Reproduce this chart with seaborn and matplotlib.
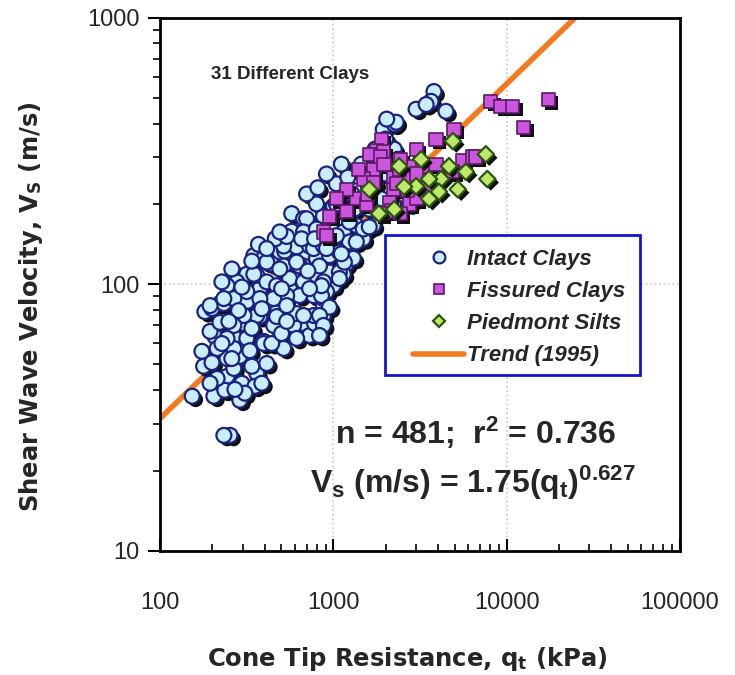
import numpy as np
import pandas as pd
import matplotlib
matplotlib.use("Agg")
import matplotlib.pyplot as plt
import matplotlib.patheffects as pe
from matplotlib.lines import Line2D
from matplotlib.patches import Rectangle
import seaborn as sns

# Intact clays (qt in kPa, Vs in m/s)
intact_qt = [181, 221, 207, 266, 304, 376, 452, 178, 153, 204, 243, 296, 361, 412, 396, 516,
             352, 288, 308, 236, 213, 266, 288, 243, 213, 266, 316, 253, 233, 672, 728, 589,
             778, 613, 876, 876, 199, 233, 266, 316, 347, 429, 490, 589, 700, 798, 912, 1187,
             1141, 1000, 876, 768, 672, 396, 452, 361, 412, 490, 558, 376, 316, 304, 266, 243,
             574, 672, 876, 975, 574, 523, 613, 728, 876, 1000, 396, 440, 516, 672, 798, 277,
             243, 361, 412, 470, 558, 672, 798, 949, 912, 768, 638, 537, 452, 376, 316, 266,
             233, 194, 949, 1938, 2243, 2155, 1141, 1392, 1000, 876, 700, 672, 798, 975, 1141,
             1356, 1548, 1236, 1486, 516, 768, 1082, 1303, 1698, 1938, 412, 490, 638, 831, 1082,
             3805, 3657, 3000, 4460, 2302, 2243, 1410, 1156, 1356, 1610, 1236, 1486, 2737, 2213,
             1610, 1356, 876, 1156, 1082, 876, 853, 949, 831, 876, 831,
             194, 221, 174, 199, 227, 259, 329, 338, 386, 270, 194, 440, 502, 470, 537, 338,
             283, 249, 386, 537, 613,
             347, 296, 369, 461, 537, 613, 712, 853, 728, 912, 1040, 655, 490, 412, 338, 259,
             227, 1111, 778, 502,
             1040, 1210, 1450, 1740, 2000, 1280, 1040, 798, 700, 813, 912, 1111, 1320, 1888,
             1740, 2000, 2350, 2030, 3430]
intact_vs = [78.9, 84.6, 63.6, 63.6, 71.2, 75.6, 84.6, 49.2, 38.0, 38.0, 45.1, 42.5, 46.3, 50.4, 61.0, 57.4,
             41.4, 36.7, 39.0, 40.0, 44.3, 48.3, 53.6, 52.6, 57.4, 57.4, 62.6, 27.1, 27.1, 71.2, 64.2, 70.0,
             71.2, 77.6, 76.3, 83.1, 81.0, 84.6, 98.7, 109, 128, 121, 132, 121, 128, 114, 125, 119,
             109, 98.7, 88.3, 76.3, 76.3, 59.9, 70.0, 76.3, 86.1, 88.3, 96.2, 96.2, 86.1, 76.3, 70.0, 62.6,
             184, 176, 173, 187, 158, 133, 138, 139, 136, 145, 125, 119, 117, 117, 125, 102,
             98.7, 108, 102, 98.7, 105, 102, 108, 111, 93.8, 90.6, 90.6, 90.6, 88.3, 88.3, 93.8, 88.3,
             88.3, 83.1, 128, 381, 398, 326, 218, 214, 196, 180, 176, 157, 161, 166, 157,
             166, 161, 144, 148, 139, 136, 132, 125, 166, 187, 121, 114, 117, 117, 111,
             528, 485, 453, 445, 405, 321, 248, 218, 224, 191, 171, 161, 200, 200,
             164, 144, 139, 121, 105, 102, 90.6, 82.0, 76.3, 70.0, 64.2,
             66.5, 71.9, 56.0, 50.8, 59.9, 52.6, 56.3, 49.2, 42.5, 40.3, 42.5, 59.9, 65.3, 75.6, 72.5, 68.3,
             79.6, 72.5, 80.9, 83.1, 62.6,
             109, 97.5, 141, 148, 151, 121, 112, 98.7, 96.2, 136, 152, 148, 157, 136, 122, 114,
             102, 130, 148, 96.2,
             238, 252, 282, 321, 350, 218, 200, 200, 218, 230, 259, 282, 191, 209,
             238, 259, 294, 416, 472]

# Fissured clays
fissured_qt = [8090, 9250, 10800, 17400, 12500, 4960, 3905, 3000, 1888, 1767, 1610, 1938, 1698,
               1486, 2213, 2885, 3290, 5587, 6380, 2628, 2213, 2098, 2155, 2737, 1356, 1548,
               1187, 949, 876, 3563, 4893, 2395, 6640, 1860, 1698, 912, 3000,
               1960, 2430, 2300, 1888, 3000, 3905, 1392, 1187, 1040, 1580, 2680, 2430]
fissured_vs = [485, 465, 465, 493, 388, 381, 350, 321, 350, 316, 307, 313, 270,
               248, 252, 275, 277, 290, 300, 248, 227, 203, 188, 200, 209, 200,
               187, 180, 157, 233, 264, 270, 300, 302, 241, 152, 209,
               282, 294, 238, 184, 259, 282, 270, 227, 209, 218, 224, 184]

# Piedmont silts
piedmont_qt = [4893, 3206, 2395, 4645, 5810, 7580, 7730, 4180, 3563, 4065, 3000, 2558, 3563, 1610,
               1830, 2243, 5220]
piedmont_vs = [344, 294, 277, 277, 264, 307, 248, 248, 248, 222, 233, 232, 209, 227,
               184, 191, 227]

# Trend (1995) end points
trend_qt = [100, 24900]
trend_vs = [31.4, 1000]

x_ticks = [100, 1000, 10000, 100000]
y_ticks = [10, 100, 1000]

df = pd.concat([
    pd.DataFrame({"qt": intact_qt, "vs": intact_vs, "group": "Intact Clays"}),
    pd.DataFrame({"qt": fissured_qt, "vs": fissured_vs, "group": "Fissured Clays"}),
    pd.DataFrame({"qt": piedmont_qt, "vs": piedmont_vs, "group": "Piedmont Silts"}),
])
trend = pd.DataFrame({"qt": trend_qt, "vs": trend_vs})

sns.set_style("white")
plt.rcParams["font.family"] = ["Liberation Sans", "DejaVu Sans"]
plt.rcParams["mathtext.fontset"] = "custom"
plt.rcParams["mathtext.rm"] = "Liberation Sans:bold"
plt.rcParams["mathtext.it"] = "Liberation Sans:bold"
plt.rcParams["mathtext.bf"] = "Liberation Sans:bold"

fig = plt.figure(figsize=(7.35, 6.75), dpi=100)
ax = fig.add_axes([0.218, 0.184, 0.707, 0.790])

shadow = [pe.SimplePatchShadow(offset=(2.5, -2.5), shadow_rgbFace="#101010", alpha=1.0), pe.Normal()]

sns.lineplot(data=trend, x="qt", y="vs", ax=ax, color="#f47a20", lw=4, zorder=2)

styles = {
    "Intact Clays": dict(marker="o", s=115, color="#c9eefb", edgecolor="#1c2280", lw=1.6),
    "Fissured Clays": dict(marker="s", s=90, color="#cc55dd", edgecolor="#5a1a66", lw=1.2),
    "Piedmont Silts": dict(marker="D", s=70, color="#bde86a", edgecolor="#2c5512", lw=1.6),
}
for name, st in styles.items():
    sub = df[df["group"] == name]
    sns.scatterplot(data=sub, x="qt", y="vs", ax=ax, marker=st["marker"], s=st["s"],
                    color=st["color"], edgecolor=st["edgecolor"], linewidth=st["lw"],
                    zorder=3, legend=False).collections[-1].set_path_effects(shadow)

ax.set_xscale("log")
ax.set_yscale("log")
ax.set_xlim(100, 100000)
ax.set_ylim(10, 1000)

for v in [1000, 10000]:
    ax.axvline(v, color="#c8c8c8", ls=":", lw=1.2, zorder=0)
ax.axhline(100, color="#c8c8c8", ls=":", lw=1.2, zorder=0)

ax.set_xticks(x_ticks)
ax.set_xticklabels([str(t) for t in x_ticks])
ax.set_yticks(y_ticks)
ax.set_yticklabels([str(t) for t in y_ticks])
ax.tick_params(axis="both", which="both", bottom=True, left=True, top=False, right=False,
               color="black")
ax.tick_params(axis="both", which="major", labelsize=17, width=1.5, length=9)
ax.tick_params(axis="both", which="minor", width=1.2, length=5)
ax.tick_params(axis="x", which="both", direction="in")
ax.tick_params(axis="x", which="major", pad=30)
ax.tick_params(axis="y", which="both", direction="out")
ax.tick_params(axis="y", which="major", pad=6)
ax.yaxis.set_minor_formatter(plt.NullFormatter())
ax.xaxis.set_minor_formatter(plt.NullFormatter())

for sp in ax.spines.values():
    sp.set_color("black")
    sp.set_linewidth(2)

ax.set_xlabel(r"Cone Tip Resistance, q$_\mathregular{t}$ (kPa)", family="DejaVu Sans",
              fontsize=17.5, fontweight="bold")
ax.set_ylabel(r"Shear Wave Velocity, V$_\mathregular{S}$ (m/s)", family="DejaVu Sans",
              fontsize=17.5, fontweight="bold")
ax.xaxis.set_label_coords(0.475, -0.176)
ax.yaxis.set_label_coords(-0.221, 0.458)

ax.text(0.25, 0.893, "31 Different Clays", transform=ax.transAxes, ha="center", va="center",
        fontsize=13.5, fontweight="bold")
ax.text(0.607, 0.221, r"n = 481;  r$^2$ = 0.736", transform=ax.transAxes, ha="center",
        va="center", fontsize=23, fontweight="bold")
ax.text(0.601, 0.128, r"V$_\mathregular{s}$ (m/s) = 1.75(q$_\mathregular{t}$)$^{0.627}$",
        transform=ax.transAxes, ha="center", va="center", fontsize=23, fontweight="bold")

# legend box drawn as its own patch so padding matches the original
ax.add_patch(Rectangle((0.4327, 0.330), 0.490, 0.2627, transform=ax.transAxes,
                       facecolor="white", edgecolor="#1414d0", lw=2, zorder=4))

handles = [
    Line2D([], [], ls="none", marker="o", ms=8.5, mfc="#c9eefb", mec="#1c2280", mew=1.6),
    Line2D([], [], ls="none", marker="s", ms=7, mfc="#cc55dd", mec="#5a1a66", mew=1.2),
    Line2D([], [], ls="none", marker="D", ms=6, mfc="#bde86a", mec="#2c5512", mew=1.6),
    Line2D([], [], color="#f47a20", lw=4),
]
labels = ["Intact Clays", "Fissured Clays", "Piedmont Silts", "Trend (1995)"]
leg = ax.legend(handles, labels, loc="upper left", bbox_to_anchor=(0.4865, 0.566),
                frameon=False, borderpad=0, borderaxespad=0,
                handlelength=2.3, labelspacing=0.5, handletextpad=0.15,
                prop={"size": 16, "weight": "bold", "style": "italic"})
leg.set_zorder(5)

fig.savefig("out.png", dpi=100, facecolor="white")
